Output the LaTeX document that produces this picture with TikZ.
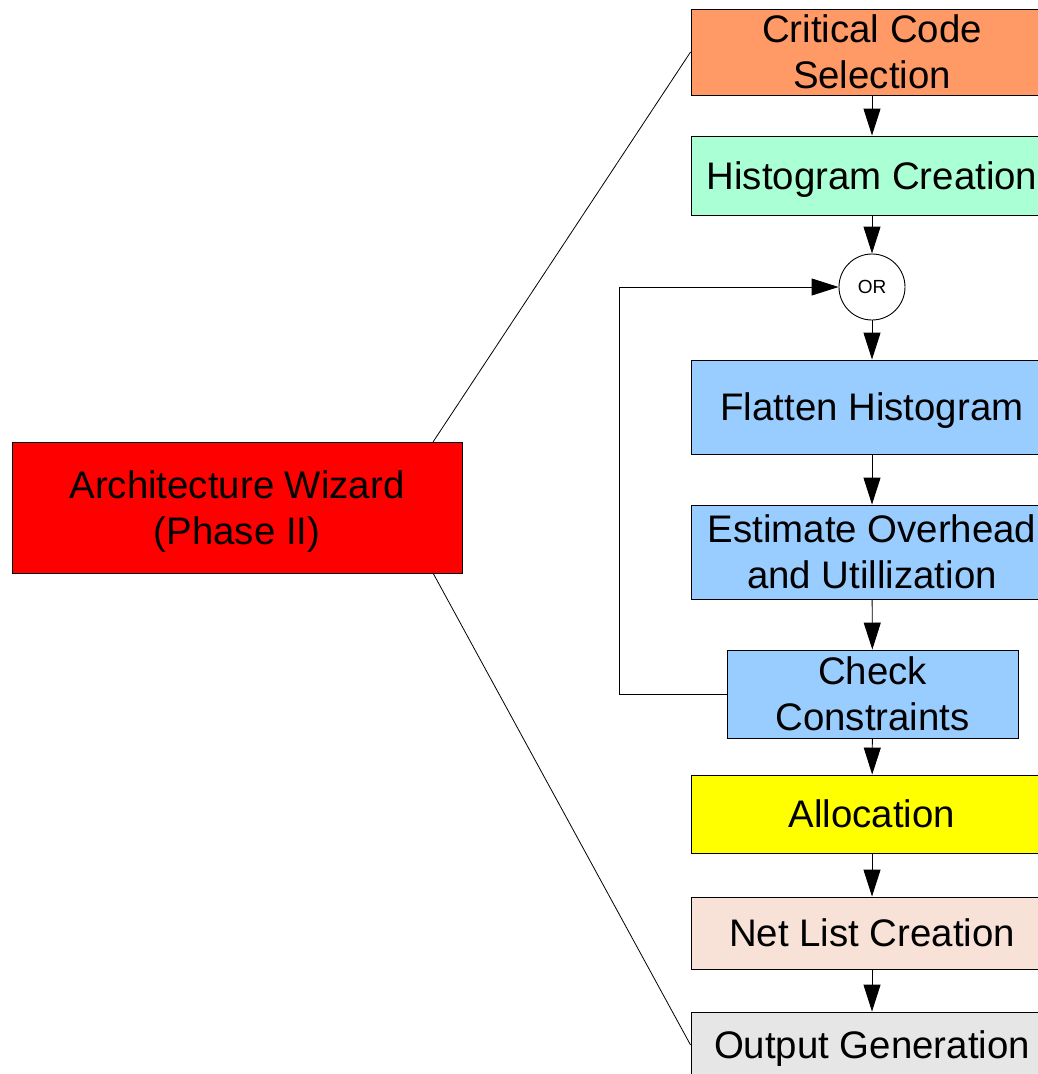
\documentclass[tikz,border=0pt]{standalone}
\usepackage{fontspec}
\setmainfont{Liberation Sans}
\usetikzlibrary{arrows.meta}

\definecolor{critfill}{HTML}{FF9966}
\definecolor{histfill}{HTML}{AAFFD4}
\definecolor{bluefill}{HTML}{99CCFF}
\definecolor{allocfill}{HTML}{FFFF00}
\definecolor{netfill}{HTML}{F8E1D6}
\definecolor{outfill}{HTML}{E6E6E6}
\definecolor{archfill}{HTML}{FF0000}

\tikzset{
  box/.style={draw=black, line width=0.9pt, rectangle, inner sep=0pt,
    align=center, text depth=0pt, font=\fontsize{38.4}{46}\selectfont},
  widebox/.style={box, minimum width=362pt},
  orcircle/.style={draw=black, line width=0.9pt, circle, minimum size=66pt,
    inner sep=0pt, fill=white, font=\fontsize{19}{22}\selectfont},
  flow/.style={draw=black, line width=0.9pt,
    -{Triangle[length=27pt,width=17pt]}},
  link/.style={draw=black, line width=0.8pt},
}

\begin{document}
\begin{tikzpicture}[x=1pt, y=-1pt]
\useasboundingbox (0,0) rectangle (1038,1074);

% main phase box
\node[box, fill=archfill, minimum width=450pt, minimum height=131pt] (arch)
  at (237,507.5) {Architecture Wizard\\(Phase II)};

% step boxes of the flow
\node[widebox, fill=critfill, minimum height=86pt] (crit) at (872,52) {Critical Code\\Selection};
\node[widebox, fill=histfill, minimum height=79pt] (hist) at (872,175.5) {Histogram Creation};
\node[orcircle] (or) at (872,287) {OR};
\node[widebox, fill=bluefill, minimum height=94pt] (flat) at (872,407) {Flatten Histogram};
\node[widebox, fill=bluefill, minimum height=94pt] (est) at (872,552) {Estimate Overhead\\and Utillization};
\node[box, fill=bluefill, minimum width=291pt, minimum height=88pt] (check) at (872.5,694) {Check\\Constraints};
\node[widebox, fill=allocfill, minimum height=78pt] (alloc) at (872,814) {Allocation};
\node[widebox, fill=netfill, minimum height=72pt] (net) at (872,933) {Net List Creation};
\node[widebox, fill=outfill, minimum height=66pt] (out) at (872,1045) {Output Generation};

% fan-out lines from the phase box
\coordinate (archtop) at (433,442);
\coordinate (archbot) at (433,573);
\draw[link] (archtop) -- (crit.west);
\draw[link] (archbot) -- (out.west);

% flow arrows
\draw[flow] (crit) -- (hist);
\draw[flow] (hist) -- (or);
\draw[flow] (or) -- (flat);
\draw[flow] (flat) -- (est);
\draw[flow] (est) -- (check);
\draw[flow] (check) -- (alloc);
\draw[flow] (alloc) -- (net);
\draw[flow] (net) -- (out);

% feedback loop back to the OR junction
\coordinate (loop) at (619,694);
\draw[flow] (check.west) -- (loop) |- (or.west);
\end{tikzpicture}
\end{document}
